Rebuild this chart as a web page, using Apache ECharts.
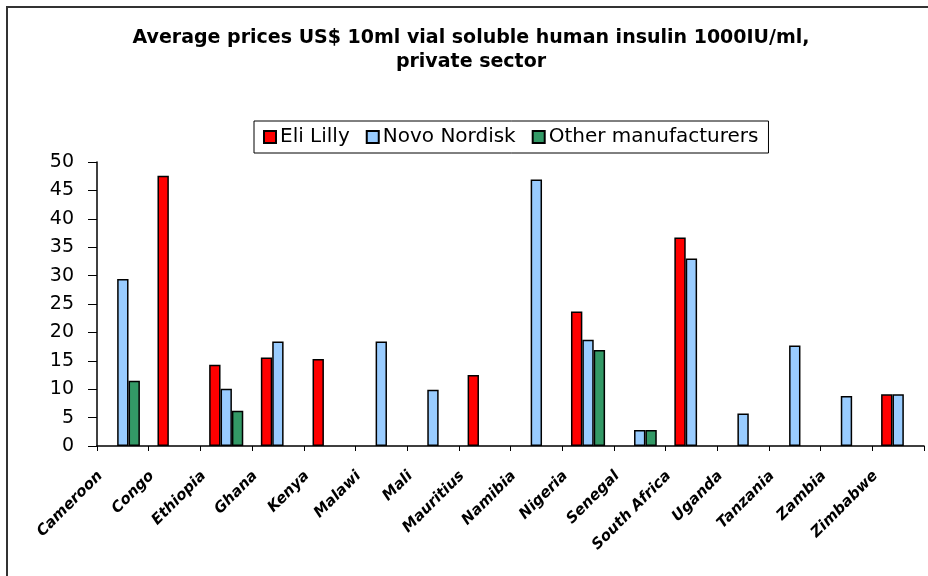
<!DOCTYPE html>
<html>
<head>
<meta charset="utf-8">
<script src="https://cdn.jsdelivr.net/npm/echarts@6/dist/echarts.min.js"></script>
<style>
  html, body { margin: 0; padding: 0; background: #fff; }
  #chart { width: 928px; height: 576px; }
</style>
</head>
<body>
<div id="chart"></div>
<script>
// countries on the x axis
var countries = [
  'Cameroon', 'Congo', 'Ethiopia', 'Ghana', 'Kenya', 'Malawi', 'Mali', 'Mauritius',
  'Namibia', 'Nigeria', 'Senegal', 'South Africa', 'Uganda', 'Tanzania', 'Zambia', 'Zimbabwe'
];
// prices in US$, null = no data
var eliLilly = [null, 47.6, 14.3, 15.6, 15.3, null, null, 12.5, null, 23.7, null, 36.7, null, null, null, 9.1];
var novoNordisk = [29.4, null, 10.1, 18.4, null, 18.4, 9.9, null, 46.9, 18.7, 2.8, 33.0, 5.7, 17.7, 8.8, 9.1];
var otherMakers = [11.5, null, 6.2, null, null, null, null, null, null, 16.9, 2.8, null, null, null, null, null];
var yTicks = [0, 5, 10, 15, 20, 25, 30, 35, 40, 45, 50];

var chart = echarts.init(document.getElementById('chart'));

function barSeries(name, data, color) {
  return {
    name: name,
    type: 'bar',
    data: data,
    barGap: '0%',
    barCategoryGap: '34%',
    itemStyle: { color: color, borderColor: '#000', borderWidth: 1.5 },
    emphasis: { disabled: true }
  };
}

chart.setOption({
  backgroundColor: '#fff',
  animation: false,
  title: {
    text: 'Average prices US$ 10ml vial soluble human insulin 1000IU/ml,\nprivate sector',
    left: 466,
    textAlign: 'center',
    top: 21,
    textStyle: {
      fontFamily: 'DejaVu Sans',
      fontWeight: 'bold',
      fontSize: 19,
      lineHeight: 24,
      color: '#000'
    }
  },
  legend: {
    top: 121,
    left: 254,
    itemWidth: 12,
    itemHeight: 12,
    itemGap: 16,
    padding: [6, 10, 6, 9],
    borderColor: '#000',
    borderWidth: 1,
    icon: 'rect',
    selectedMode: false,
    textStyle: { fontFamily: 'DejaVu Sans', fontSize: 20, color: '#000', padding: [0, 0, 0, -1] },
    data: ['Eli Lilly', 'Novo Nordisk', 'Other manufacturers']
  },
  graphic: [{
    type: 'rect',
    shape: { x: 7, y: 7, width: 1000, height: 1000 },
    style: { fill: 'none', stroke: '#333', lineWidth: 2 },
    silent: true
  }],
  grid: { left: 97, right: 4, top: 162, bottom: 130 },
  xAxis: {
    type: 'category',
    data: countries,
    axisLine: { lineStyle: { color: '#000', width: 1.5 } },
    axisTick: { show: true, length: 5, alignWithLabel: false, lineStyle: { color: '#000' } },
    axisLabel: {
      interval: 0,
      rotate: 45,
      margin: 5,
      fontFamily: 'DejaVu Sans',
      fontWeight: 'bold',
      fontStyle: 'italic',
      fontSize: 15,
      color: '#000',
      padding: [0, 32, 0, 0]
    }
  },
  yAxis: {
    type: 'value',
    min: yTicks[0],
    max: yTicks[yTicks.length - 1],
    interval: 5,
    splitLine: { show: false },
    axisLine: { show: true, lineStyle: { color: '#000', width: 1.5 } },
    axisTick: { show: true, length: 9, lineStyle: { color: '#000' } },
    axisLabel: {
      margin: 23,
      fontFamily: 'DejaVu Sans',
      fontSize: 19,
      color: '#000'
    }
  },
  series: [
    barSeries('Eli Lilly', eliLilly, '#FF0000'),
    barSeries('Novo Nordisk', novoNordisk, '#99CCFF'),
    barSeries('Other manufacturers', otherMakers, '#339966')
  ]
});
</script>
</body>
</html>
